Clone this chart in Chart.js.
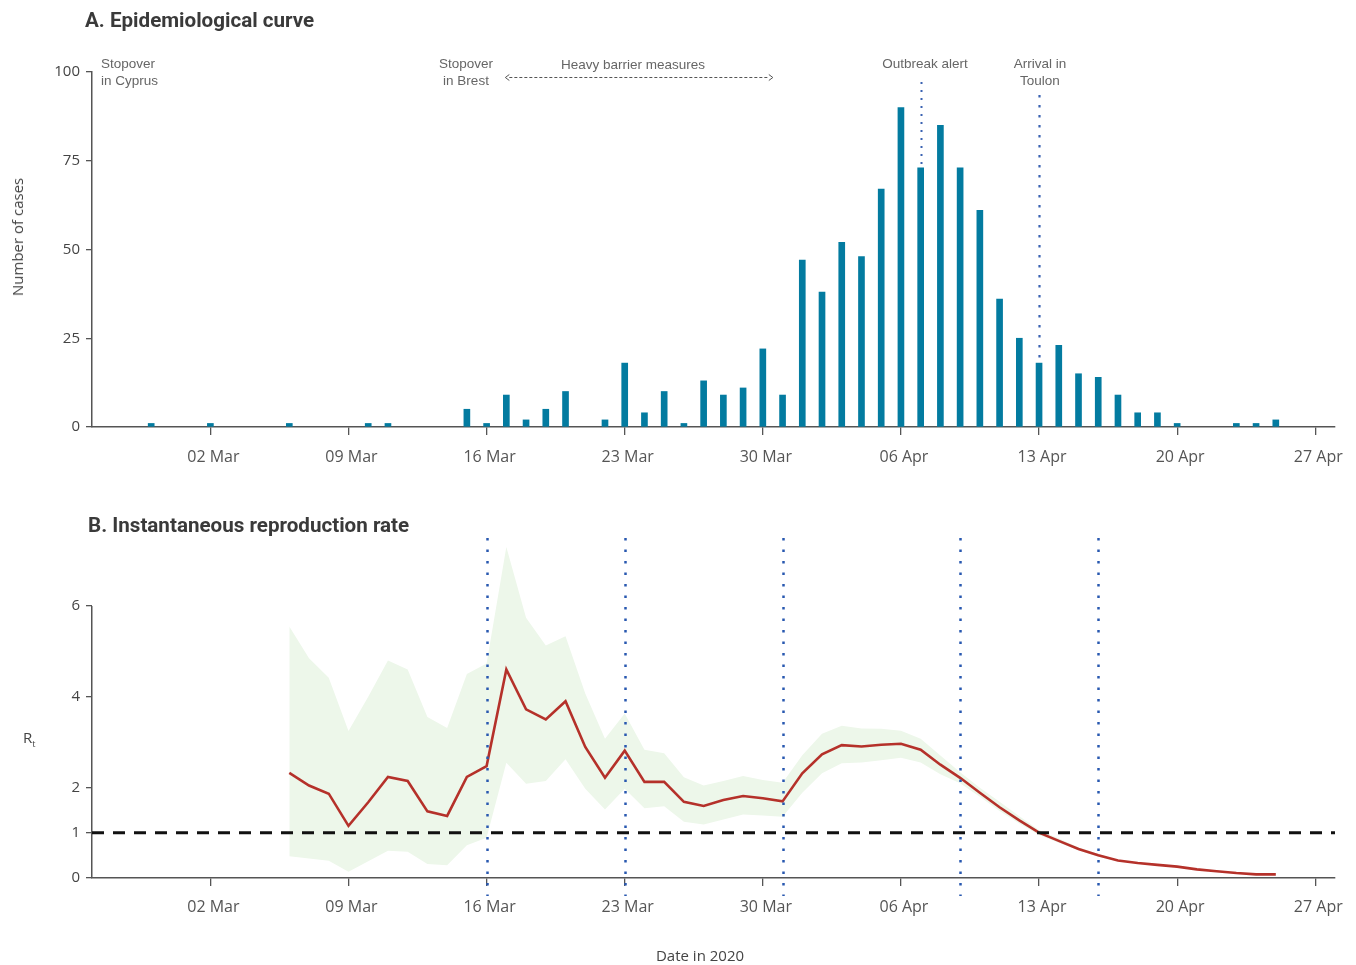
<!DOCTYPE html>
<html><head><meta charset="utf-8">
<script src="https://cdn.jsdelivr.net/npm/chart.js@4.4.1/dist/chart.umd.min.js"></script>
<style>
body{margin:0;background:#fff;}
#wrap{position:relative;width:1356px;height:965px;overflow:hidden;background:#fff;font-family:'Open Sans',sans-serif;}
canvas{position:absolute;left:0;}
.t{position:absolute;white-space:nowrap;}
.title{font-family:Roboto,sans-serif;font-weight:700;font-size:20.6px;color:#3a3a3a;line-height:24px;}
.ann{font-family:'Liberation Sans',Arial,sans-serif;font-size:13.5px;color:#666;line-height:17px;text-align:center;}
.ax{font-family:'Open Sans',sans-serif;font-size:15px;color:#444;}
</style></head><body>
<div id="wrap">
<canvas id="c1" width="1356" height="480" style="top:0"></canvas>
<canvas id="c2" width="1356" height="485" style="top:480px"></canvas>
<div class="t title" style="left:85px;top:8px">A. Epidemiological curve</div>
<div class="t title" style="left:88px;top:513px">B. Instantaneous reproduction rate</div>
<div class="t ann" style="left:101px;top:55px;text-align:left">Stopover<br>in Cyprus</div>
<div class="t ann" style="left:416px;width:100px;top:55px">Stopover<br>in Brest</div>
<div class="t ann" style="left:533px;width:200px;top:56px">Heavy barrier measures</div>
<div class="t ann" style="left:865px;width:120px;top:55px">Outbreak alert</div>
<div class="t ann" style="left:990px;width:100px;top:55px">Arrival in<br>Toulon</div>
<div class="t ax" style="left:17px;top:237px;transform:translate(-50%,-50%) rotate(-90deg)">Number of cases</div>
<div class="t ax" style="left:23px;top:727px">R<sub style="font-size:9px">t</sub></div>
<div class="t ax" style="left:700px;top:955px;transform:translate(-50%,-50%)">Date in 2020</div>
</div>
<script>
// ---- Data ----
const dates = ['25 Feb','26 Feb','27 Feb','28 Feb','29 Feb','01 Mar','02 Mar','03 Mar','04 Mar','05 Mar',
  '06 Mar','07 Mar','08 Mar','09 Mar','10 Mar','11 Mar','12 Mar','13 Mar','14 Mar','15 Mar',
  '16 Mar','17 Mar','18 Mar','19 Mar','20 Mar','21 Mar','22 Mar','23 Mar','24 Mar','25 Mar',
  '26 Mar','27 Mar','28 Mar','29 Mar','30 Mar','31 Mar','01 Apr','02 Apr','03 Apr','04 Apr',
  '05 Apr','06 Apr','07 Apr','08 Apr','09 Apr','10 Apr','11 Apr','12 Apr','13 Apr','14 Apr',
  '15 Apr','16 Apr','17 Apr','18 Apr','19 Apr','20 Apr','21 Apr','22 Apr','23 Apr','24 Apr',
  '25 Apr','26 Apr','27 Apr','28 Apr'];
const cases = [0,0,0,1,0,0,1,0,0,0,
  1,0,0,0,1,1,0,0,0,5,
  1,9,2,5,10,0,2,18,4,10,
  1,13,9,11,22,9,47,38,52,48,
  67,90,73,85,73,61,36,25,18,23,
  15,14,9,4,4,1,0,0,1,1,
  2,0,0,0];
const tickLabels = ['02 Mar','09 Mar','16 Mar','23 Mar','30 Mar','06 Apr','13 Apr','20 Apr','27 Apr'];
const caseTicks = [0,25,50,75,100];

const rtStart = '06 Mar';
const rt = [2.32,2.04,1.86,1.15,1.67,2.23,2.14,1.47,1.37,2.23,
  2.47,4.60,3.72,3.50,3.90,2.89,2.21,2.81,2.12,2.12,
  1.68,1.59,1.72,1.81,1.76,1.69,2.31,2.73,2.93,2.90,
  2.94,2.96,2.83,2.50,2.21,1.88,1.56,1.27,1.00,0.82,
  0.64,0.50,0.385,0.33,0.29,0.25,0.19,0.15,0.11,0.08,0.08];
const rtHigh = [5.55,4.85,4.42,3.24,4.00,4.80,4.60,3.55,3.31,4.50,
  4.73,7.30,5.74,5.13,5.33,4.07,3.07,3.63,2.83,2.75,
  2.22,2.04,2.14,2.25,2.16,2.10,2.71,3.18,3.36,3.30,
  3.29,3.25,3.07,2.70,2.33,1.99,1.68,1.36,1.06,0.87,
  0.68,0.53,0.40,0.34,0.30,0.26,0.20,0.16,0.12,0.09,0.09];
const rtLow = [0.48,0.43,0.38,0.14,0.37,0.60,0.58,0.31,0.28,0.72,
  0.89,2.54,2.08,2.14,2.62,1.97,1.51,1.97,1.54,1.58,
  1.24,1.18,1.29,1.40,1.38,1.35,1.88,2.31,2.53,2.55,
  2.60,2.65,2.55,2.29,2.09,1.79,1.48,1.20,0.95,0.78,
  0.61,0.47,0.37,0.32,0.28,0.24,0.18,0.14,0.10,0.07,0.07];
const rtTicks = [0,1,2,4,6];
const rtMarkers = ['16 Mar','23 Mar','31 Mar','09 Apr','16 Apr'];
const threshold = 1;
const outbreakAlert = '07 Apr';
const arrivalToulon = '13 Apr';

// ---- Styles ----
const AXIS = '#555';
Chart.defaults.font.family = "'Open Sans', sans-serif";
Chart.defaults.font.size = 15;
Chart.defaults.color = '#555';

function xAxis(height, pad){
  return {
    type:'category', offset:false,
    grid:{display:true, drawOnChartArea:false, drawTicks:true, tickLength:8, color:AXIS, lineWidth:1.3, offset:false},
    border:{display:true, color:AXIS, width:1.5},
    ticks:{autoSkip:false, maxRotation:0, padding:pad, labelOffset:3, color:'#555', font:{size:16}},
    afterBuildTicks:(s)=>{ s.ticks = s.ticks.filter(t => tickLabels.includes(dates[t.value])); },
    afterFit:(s)=>{ s.height = height; }
  };
}

const padArr = (arr) => { const st = dates.indexOf(rtStart); const out = dates.map(()=>null); arr.forEach((v,i)=>{ out[st+i]=v; }); return out; };

// ---- Chart A ----
const annoA = {
  id:'annoA',
  afterDatasetsDraw(chart){
    const {ctx, scales:{x,y}} = chart;
    ctx.save();
    const drawDot = (label, top, dash, w) => {
      const i = dates.indexOf(label);
      const px = Math.round(x.getPixelForValue(i)) + 0.5;
      const bottom = y.getPixelForValue(cases[i]) - 2;
      ctx.beginPath(); ctx.setLineDash(dash); ctx.lineWidth = w; ctx.strokeStyle = '#3a63b2';
      ctx.moveTo(px, top); ctx.lineTo(px, bottom); ctx.stroke();
    };
    drawDot(outbreakAlert, 82, [2,6], 2);
    drawDot(arrivalToulon, 95, [2.5,7.5], 2.2);
    // heavy barrier arrow
    const x0 = x.getPixelForValue(dates.indexOf('17 Mar')) - 1;
    const x1 = x.getPixelForValue(dates.indexOf('30 Mar')) + 10;
    const yy = 77.5;
    ctx.setLineDash([3,2]); ctx.lineWidth = 1; ctx.strokeStyle = '#555';
    ctx.beginPath(); ctx.moveTo(x0+4, yy); ctx.lineTo(x1-4, yy); ctx.stroke();
    ctx.setLineDash([]);
    ctx.beginPath(); ctx.moveTo(x0+4, yy-3); ctx.lineTo(x0, yy); ctx.lineTo(x0+4, yy+3); ctx.stroke();
    ctx.beginPath(); ctx.moveTo(x1-4, yy-3); ctx.lineTo(x1, yy); ctx.lineTo(x1-4, yy+3); ctx.stroke();
    ctx.restore();
  }
};

new Chart(document.getElementById('c1'), {
  type:'bar',
  data:{ labels:dates, datasets:[{ data:cases.map(v => v === 0 ? null : v), backgroundColor:'#037ba0', barThickness:6, borderWidth:0 }] },
  options:{
    responsive:false, animation:false,
    layout:{padding:{top:72, right:21, left:0, bottom:0}},
    plugins:{legend:{display:false}, tooltip:{enabled:false}},
    scales:{
      x: xAxis(53, 13),
      y:{
        min:0, max:100,
        grid:{display:true, drawOnChartArea:false, drawTicks:true, tickLength:6, color:AXIS, lineWidth:1.3},
        border:{display:true, color:AXIS, width:1.5},
        ticks:{padding:6, color:'#444', font:{size:15}},
        afterBuildTicks:(s)=>{ s.ticks = caseTicks.map(v=>({value:v})); },
        afterFit:(s)=>{ s.width = 92; }
      }
    }
  },
  plugins:[annoA]
});

// ---- Chart B ----
const annoB = {
  id:'annoB',
  afterDatasetsDraw(chart){
    const {ctx, chartArea:ca, scales:{x,y}} = chart;
    ctx.save();
    ctx.beginPath(); ctx.strokeStyle = AXIS; ctx.lineWidth = 1.5;
    ctx.moveTo(ca.left - 0.25, y.getPixelForValue(rtTicks[rtTicks.length-1])); ctx.lineTo(ca.left - 0.25, y.getPixelForValue(0)); ctx.stroke();
    const py = y.getPixelForValue(threshold);
    ctx.beginPath(); ctx.setLineDash([12,9]); ctx.lineWidth = 3; ctx.strokeStyle = '#111';
    ctx.moveTo(ca.left, py); ctx.lineTo(ca.right, py); ctx.stroke();
    ctx.setLineDash([2.5,9]); ctx.lineWidth = 2.5; ctx.strokeStyle = '#2858b0';
    rtMarkers.forEach(l => {
      const px = Math.round(x.getPixelForValue(dates.indexOf(l))) + 0.5;
      ctx.beginPath(); ctx.moveTo(px, ca.top); ctx.lineTo(px, ca.bottom + 18); ctx.stroke();
    });
    ctx.restore();
  }
};

new Chart(document.getElementById('c2'), {
  type:'line',
  data:{ labels:dates, datasets:[
    { data:padArr(rtHigh), order:2, borderWidth:0, pointRadius:0, fill:'+1', backgroundColor:'#edf7ea', borderColor:'rgba(0,0,0,0)', tension:0 },
    { data:padArr(rtLow), order:1, borderWidth:0, pointRadius:0, fill:false, borderColor:'rgba(0,0,0,0)', tension:0 },
    { data:padArr(rt), order:0, borderWidth:2.6, pointRadius:0, fill:false, borderColor:'#b5312a', tension:0 }
  ]},
  options:{
    responsive:false, animation:false, spanGaps:false,
    layout:{padding:{top:58, right:21, left:0, bottom:0}},
    plugins:{legend:{display:false}, tooltip:{enabled:false}, filler:{drawTime:'beforeDatasetsDraw'}},
    scales:{
      x: xAxis(87, 12),
      y:{
        min:0, max:7.5,
        grid:{display:true, drawOnChartArea:false, drawTicks:true, tickLength:6, color:AXIS, lineWidth:1.3},
        border:{display:false},
        ticks:{padding:6, color:'#444', font:{size:15}},
        afterBuildTicks:(s)=>{ s.ticks = rtTicks.map(v=>({value:v})); },
        afterFit:(s)=>{ s.width = 92; }
      }
    }
  },
  plugins:[annoB]
});
</script>
</body></html>
